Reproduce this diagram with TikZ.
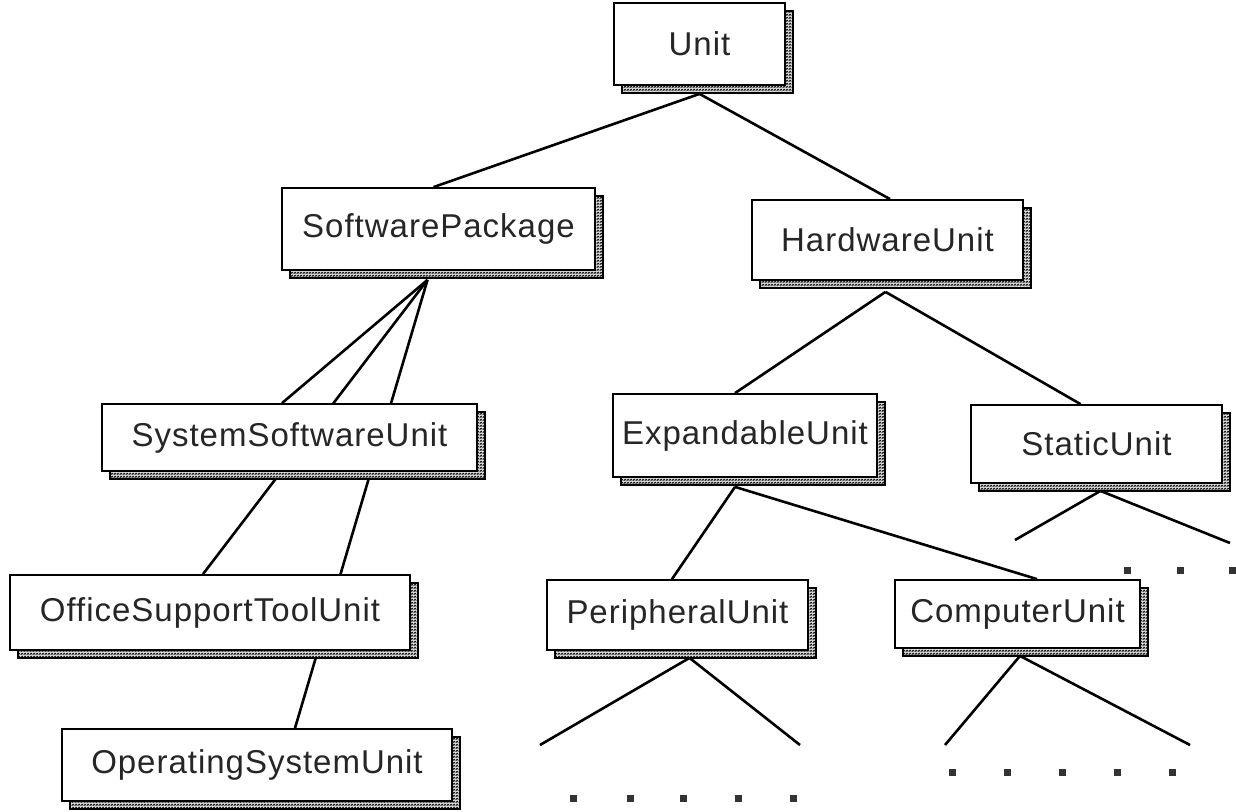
\documentclass[tikz,border=0pt]{standalone}
\usepackage{fontspec}
\setmainfont{Liberation Sans}[LetterSpace=3]
\usetikzlibrary{shadows,calc,backgrounds,patterns.meta}
% fine zigzag texture used for the drop shadows
\tikzdeclarepattern{name=shadowzig,
  bottom left={(0pt,0pt)}, top right={(3pt,3pt)}, tile size={(3pt,3pt)},
  code={\draw[line width=0.95pt] (0pt,0.6pt) -- (1.5pt,2.4pt) -- (3pt,0.6pt);}}
\begin{document}
\begin{tikzpicture}[x=1pt,y=-1pt,
  umlbox/.style={draw=black, line width=1.8pt, fill=white, inner sep=0pt,
    font=\fontsize{33}{35}\selectfont, text=black!85,
    general shadow={fill=black!15, draw=black, line width=1.2pt,
      postaction={pattern=shadowzig},
      shadow xshift=8pt, shadow yshift=-8pt}},
  link/.style={line width=2.6pt, black},
  leaf/.style={fill=black!80, minimum size=7pt, inner sep=0pt}]
\useasboundingbox (0,0) rectangle (1236,811);

% class boxes: centre, width, height in pixels
\path
  node[umlbox, minimum width=171pt, minimum height=82pt]  (unit) at (699.5,44)  {Unit}
  node[umlbox, minimum width=313pt, minimum height=82pt]  (sp)   at (438.5,229) {SoftwarePackage}
  node[umlbox, minimum width=271pt, minimum height=80pt]  (hw)   at (887.5,240) {HardwareUnit}
  node[umlbox, minimum width=375pt, minimum height=67pt]  (ssu)  at (289.5,437.5) {SystemSoftwareUnit}
  node[umlbox, minimum width=264pt, minimum height=83pt]  (eu)   at (745,435.5) {ExpandableUnit}
  node[umlbox, minimum width=251pt, minimum height=78pt]  (st)   at (1096.5,444) {StaticUnit}
  node[umlbox, minimum width=400pt, minimum height=75pt]  (ostu) at (210,612.5) {OfficeSupportToolUnit}
  node[umlbox, minimum width=261pt, minimum height=70pt]  (pu)   at (677.5,615) {PeripheralUnit}
  node[umlbox, minimum width=245pt, minimum height=68pt]  (cu)   at (1017.5,614) {ComputerUnit}
  node[umlbox, minimum width=390pt, minimum height=72pt]  (osu)  at (257,765) {OperatingSystemUnit};

% open ends of the subtrees
\coordinate (st-l) at (1015,540);
\coordinate (st-r) at (1230,543);
\coordinate (pu-l) at (540,745);
\coordinate (pu-r) at (800,745);
\coordinate (cu-l) at (945,745);
\coordinate (cu-r) at (1190,745);

% elided children
\foreach \x [count=\i] in {1127,1180,1232} \node[leaf] (st-d\i) at (\x,570) {};
\foreach \x [count=\i] in {573,630,683,738,793} \node[leaf] (pu-d\i) at (\x,798) {};
\foreach \x [count=\i] in {952,1007,1062,1117,1172} \node[leaf] (cu-d\i) at (\x,772) {};

% inheritance links, drawn behind the boxes
\begin{scope}[on background layer]
  \draw[link] ([yshift=-8pt]unit.south) -- ([xshift=-5pt]sp.north);
  \draw[link] ([yshift=-8pt]unit.south) -- ([xshift=2.5pt]hw.north);
  \draw[link] ([xshift=-11pt,yshift=-9pt]sp.south) -- ([xshift=-7.5pt]ssu.north);
  \draw[link] ([xshift=-11pt,yshift=-9pt]sp.south) -- ([xshift=-7pt]ostu.north);
  \draw[link] ([xshift=-11pt,yshift=-9pt]sp.south) -- ([xshift=38pt]osu.north);
  \draw[link] ([xshift=-2pt,yshift=-11pt]hw.south) -- ([xshift=-10pt]eu.north);
  \draw[link] ([xshift=-2pt,yshift=-11pt]hw.south) -- ([xshift=-16pt]st.north);
  \draw[link] ([xshift=-10pt,yshift=-9pt]eu.south) -- ([xshift=-5.5pt]pu.north);
  \draw[link] ([xshift=-10pt,yshift=-9pt]eu.south) -- ([xshift=19.5pt]cu.north);
  \draw[link] ([xshift=4pt,yshift=-7pt]st.south) -- (st-l);
  \draw[link] ([xshift=4pt,yshift=-7pt]st.south) -- (st-r);
  \draw[link] ([xshift=12pt,yshift=-7pt]pu.south) -- (pu-l);
  \draw[link] ([xshift=12pt,yshift=-7pt]pu.south) -- (pu-r);
  \draw[link] ([xshift=2.5pt,yshift=-7pt]cu.south) -- (cu-l);
  \draw[link] ([xshift=2.5pt,yshift=-7pt]cu.south) -- (cu-r);
\end{scope}
\end{tikzpicture}
\end{document}
